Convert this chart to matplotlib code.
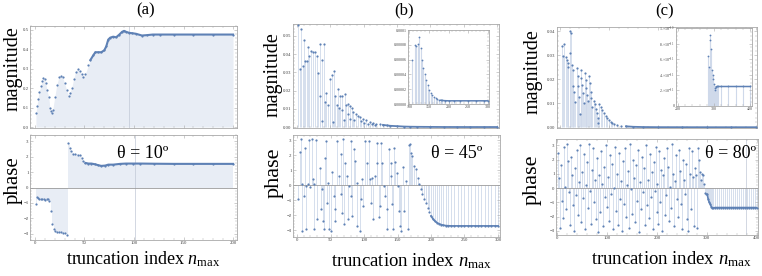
import numpy as np
import matplotlib
matplotlib.use("Agg")
import matplotlib.pyplot as plt
from matplotlib.ticker import MultipleLocator, FixedLocator, FixedFormatter

plt.rcParams['mathtext.fontset'] = 'custom'
plt.rcParams['mathtext.rm'] = 'Liberation Serif'
plt.rcParams['mathtext.it'] = 'Liberation Serif:italic'
plt.rcParams['font.family'] = ['Liberation Serif', 'DejaVu Serif']

# ---------------- data ----------------
panel_titles = ["(a)", "(b)", "(c)"]
theta_labels = ["θ = 10º", "θ = 45º", "θ = 80º"]

# (a) theta = 10
a_mag_n = [1, 2, 3, 4, 6, 7, 8, 10, 11, 12, 14, 15, 16, 17, 18, 20, 22, 24, 26, 28, 30, 32, 34, 35, 37,
           39, 41, 43, 45, 47, 49, 51, 54, 56, 59, 61, 64, 67, 70, 72, 74, 76, 79, 82, 85, 88, 90, 92,
           95, 98, 102, 108, 113, 119, 126, 140, 160, 180, 200]
a_mag = [0.07, 0.11, 0.145, 0.18, 0.21, 0.235, 0.25, 0.245, 0.225, 0.19, 0.155, 0.10, 0.085, 0.072, 0.09,
         0.155, 0.215, 0.255, 0.265, 0.255, 0.225, 0.19, 0.16, 0.175, 0.20, 0.245, 0.285, 0.30, 0.29,
         0.275, 0.26, 0.275, 0.32, 0.345, 0.37, 0.385, 0.385, 0.385, 0.395, 0.415, 0.45, 0.46, 0.465,
         0.462, 0.475, 0.49, 0.495, 0.49, 0.485, 0.483, 0.48, 0.471, 0.473, 0.476, 0.476, 0.476, 0.476,
         0.476, 0.476]
a_phase_n = [1, 2, 3, 4, 6, 7, 9, 10, 12, 13, 14, 16, 17, 19, 20, 22, 24, 26, 28, 30, 32,
             33, 35, 36, 38, 40, 43, 45, 47, 49, 51, 54, 57, 61, 64, 67, 71, 74, 79, 86, 92, 99,
             106, 120, 140, 160, 180, 200]
a_phase = [-1.07, -0.6, -0.69, -0.75, -0.77, -0.77, -0.75, -0.82, -0.77, -0.75, -0.88, -1.5, -2.39,
           -2.67, -2.8, -2.86, -2.88, -2.88, -2.92, -2.97, -3.08,
           2.9, 2.58, 2.34, 2.19, 2.15, 2.13, 2.09, 1.94, 1.72, 1.59, 1.55, 1.55, 1.5, 1.44, 1.40,
           1.42, 1.48, 1.48, 1.53, 1.55, 1.55, 1.55, 1.54, 1.53, 1.53, 1.53, 1.53]

# (b) theta = 45
b_mag_n = [1, 5, 6, 9, 11, 12, 15, 16, 18, 21, 24, 27, 30, 32, 34, 35, 37, 38, 40, 42, 44, 46, 49, 52,
           54, 55, 57, 60, 62, 63, 65, 67, 68, 70, 72, 74, 76, 77, 79, 80, 82, 84, 86, 89, 92, 94, 96,
           99, 101, 104, 107, 109, 112, 114, 117, 119, 124, 129, 135, 140, 150, 160, 170, 180, 200,
           220, 240, 260, 280, 300]
b_mag = [0.0558, 0.032, 0.054, 0.0333, 0.0477, 0.036, 0.036, 0.0438, 0.0388, 0.0415, 0.041, 0.041,
         0.039, 0.0294, 0.017, 0.0458, 0.037, 0.0035, 0.0454, 0.014, 0.0188, 0.012, 0.0265, 0.0285,
         0.003, 0.0308, 0.017, 0.012, 0.0208, 0.0102, 0.017, 0.0092, 0.0173, 0.0038, 0.0179, 0.012,
         0.0127, 0.0073, 0.0115, 0.0045, 0.0102, 0.0083, 0.004, 0.0073, 0.0063, 0.0054, 0.0035,
         0.0044, 0.0025, 0.0038, 0.0015, 0.003, 0.0018, 0.0025, 0.0012, 0.0019, 0.0015, 0.0012,
         0.0009, 0.0007, 0.0005, 0.0003, 0.0002, 0.00015, 0.0001, 0.00005, 0.00004, 0.00003,
         0.00003, 0.00003]
b_inset_n = [108, 114, 118, 122, 126, 129, 132, 135, 139, 143, 147, 151, 155, 159, 164, 168, 172,
             176, 180, 184, 190, 200, 215, 230, 250, 270, 290, 300]
b_inset = [0.00006, 0.00008, 0.000079, 0.000081, 0.000091, 0.000076, 0.00006, 0.000048, 0.00004,
           0.000033, 0.000026, 0.000019, 0.000015, 0.000012, 0.00001, 0.0000086, 0.000007,
           0.0000057, 0.000005, 0.0000048, 0.0000045, 0.0000043, 0.0000043, 0.0000043, 0.0000043,
           0.0000043, 0.0000043, 0.0000043]
b_phase_n = [1, 5, 6, 7, 8, 10, 12, 13, 14, 16, 18, 20, 22, 24, 25, 26, 28, 30, 34, 36, 37, 39, 41,
             42, 44, 45, 46, 47, 50, 52, 55, 56, 57, 60, 62, 65, 66, 67, 69, 70, 72, 74, 76, 77, 80,
             81, 82, 85, 87, 89, 90, 94, 96, 97, 99, 101, 104, 107, 109, 111, 112, 114, 116, 119,
             120, 122, 124, 126, 127, 130, 132, 134, 135, 137, 140, 141, 142, 144, 145, 147, 149,
             151, 152, 154, 155, 158, 160, 162, 165, 167, 169, 170, 172, 175, 177, 180, 182, 185,
             187, 190, 192, 195, 197, 200, 203, 206, 209, 212, 215, 218, 222, 226, 230, 235, 240,
             245, 250, 255, 260, 265, 270, 275, 280, 285, 290, 295, 300]
b_phase = [-0.93, 2.22, 3.07, 0.07, -3.04, -0.71, 2.5, -0.04, -2.93, 0.07, 3.0, -0.09, 3.07, 0.4,
           0.07, -2.93, 3.02, -2.27, 1.18, -1.6, -0.27, -2.38, -2.93, 1.84, 2.96, -1.16, 0.18,
           -2.93, -3.04, 0.89, -0.71, -2.38, -1.6, 2.96, 0.62, 2.07, -0.6, -1.82, 3.07, -2.6, 1.51,
           0.62, -2.27, -0.04, 2.96, -0.71, -2.04, 2.4, 1.62, -2.71, 0.18, -3.04, -0.93, 0.4,
           -1.38, 2.96, 1.51, 2.96, 0.4, -1.16, 0.51, -2.22, 0.62, 2.84, 1.51, -2.09, -1.38, 2.8,
           1.51, -0.04, -0.71, -1.6, -2.93, 2.44, 1.51, 0.62, -1.27, -2.93, 2.51, 1.56, 0.84, -0.04,
           -1.71, -2.71, -3.04, 1.2, -1.71, 0.3, -2.93, 2.67, 2.73, 2.13, 1.96, 1.29, 1.07, 0.51,
           0.07, -0.27, -0.6, -0.93, -1.2, -1.49, -1.78, -2.04, -2.25, -2.4, -2.5, -2.57, -2.62,
           -2.66, -2.69, -2.7, -2.71, -2.71, -2.71, -2.71, -2.71, -2.71, -2.71, -2.71, -2.71, -2.71,
           -2.71, -2.71, -2.71, -2.71, -2.71]

# (c) theta = 80
c_mag_n = [5, 7, 9, 12, 14, 16, 17, 21, 21, 23, 25, 27, 27, 29, 31, 34, 36, 37, 39, 41, 43, 44, 46, 47,
           49, 51, 53, 54, 56, 57, 59, 61, 63, 64, 66, 69, 72, 74, 76, 77, 78, 80, 84, 87, 90, 94,
           97, 100, 104, 107, 110, 117, 124, 135, 150, 170, 200, 250, 300, 350, 400]
c_mag = [0.034, 0.0298, 0.0348, 0.0295, 0.028, 0.027, 0.0253, 0.040, 0.031, 0.0393, 0.026, 0.024,
         0.017, 0.0149, 0.0107, 0.0246, 0.0212, 0.017, 0.0128, 0.0056, 0.024, 0.0205, 0.0177,
         0.0142, 0.010, 0.0226, 0.0198, 0.0163, 0.0135, 0.0111, 0.0212, 0.0184, 0.0146, 0.0121,
         0.0086, 0.0111, 0.0095, 0.0075, 0.0058, 0.0017, 0.0038, 0.0098, 0.0086, 0.0072, 0.0058,
         0.0045, 0.0038, 0.0031, 0.0024, 0.0017, 0.0014, 0.001, 0.0007, 0.0004, 0.0002, 0.0001,
         0.00005, 0.00003, 0.00002, 0.00002, 0.00002]
c_inset_n = [284, 286, 288, 290, 292, 294, 296, 298, 300, 302, 304, 306, 308, 312, 320, 340, 360,
             380, 400]
c_inset = [6.4e-11, 5.0e-11, 9.1e-11, 8.4e-11, 7.3e-11, 4.6e-11, 4.0e-11, 3.4e-11, 2.8e-11,
           2.0e-11, 2.3e-11, 2.45e-11, 2.5e-11, 2.5e-11, 2.5e-11, 2.5e-11, 2.5e-11, 2.5e-11, 2.5e-11]
c_phase_n = list(range(1, 290, 2)) + [291, 293, 295, 297, 299, 301, 303, 305, 307, 309, 311, 313,
                                      317, 321, 325, 329, 333, 337, 341, 345, 349, 353, 357, 361,
                                      365, 369, 373, 377, 381, 385, 389, 393, 397, 400]
c_phase = [2.5, 0.7, -2.8, 1.6, -0.9, -2.1, 2.9, 0.1, -1.5, 3.1,
           1.9, -0.3, -2.6, 2.2, 0.9, -1.2, -3.0, 1.4, -0.5, 2.7,
           -1.9, 0.4, 3.0, -2.4, 1.1, -0.7, 2.4, -2.9, 0.2, 1.8,
           -1.4, 3.1, -0.2, -2.5, 1.3, 2.8, -1.0, 0.6, -2.2, 2.1,
           -3.1, 0.9, -1.7, 2.6, 0.3, -2.7, 1.5, -0.6, 3.0, -1.3,
           0.8, -2.3, 2.3, -0.4, 1.7, -2.9, 0.0, 2.9, -1.6, 1.0,
           -2.6, 2.5, -0.8, 0.5, -3.0, 1.9, -1.1, 2.8, -2.0, 0.2,
           1.2, -2.8, 3.1, -0.1, -1.8, 2.0, 0.7, -2.4, 1.6, -0.9,
           2.7, -3.1, 0.4, -1.5, 2.2, -0.3, 1.4, -2.6, 3.0, -1.2,
           0.6, -2.1, 2.4, -0.6, 1.1, -2.9, 1.8, -0.2, 2.9, -1.7,
           0.3, -2.5, 2.6, -1.0, 1.3, -3.0, 0.9, 2.1, -1.9, -0.5,
           2.8, 1.5, -2.3, 0.1, -1.4, 3.1, 1.0, -2.7, 0.5, 2.3,
           -0.8, -2.0, 2.7, 1.2, -1.1, -2.9, 2.0, 0.6, -0.4, 1.7,
           -2.2, -3.0, 2.8, 1.0, -1.5, 2.6, 0.8, -2.7, 1.4, 0.9,
           -2.8, 2.8, 2.0, 1.1, 0.6,
           1.0, 0.9, 0.3, -0.34, -0.4, -0.45, -0.8, -1.0, -1.13, -1.3, -1.38, -1.4,
           -1.37, -1.37, -1.37, -1.37, -1.37, -1.37, -1.37, -1.37, -1.37, -1.37, -1.37, -1.37,
           -1.37, -1.37, -1.37, -1.37, -1.37, -1.37, -1.37, -1.37, -1.37, -1.37]

# ---------------- figure ----------------
W, H = 762, 276
fig = plt.figure(figsize=(W / 100, H / 100), dpi=100)

PT = '#5E81B5'
STEM = '#cfd9ea'
FRAME = '#a8a8a8'
TICKC = '#444444'


def px_axes(l, t, r, b):
    return fig.add_axes([l / W, 1 - b / H, (r - l) / W, (b - t) / H])


def style(ax, lab=3.5):
    for s in ax.spines.values():
        s.set_color(FRAME)
        s.set_linewidth(0.6)
    ax.tick_params(which='both', direction='in', top=True, right=True, color=FRAME,
                   labelsize=lab, labelcolor=TICKC, pad=1.0)
    ax.tick_params(which='major', length=2.2, width=0.4)
    ax.tick_params(which='minor', length=1.2, width=0.3)


def ftext(x, y, s, size, **kw):
    fig.text(x / W, 1 - y / H, s, fontsize=size, ha='center', va='center', **kw)


def stems(ax, n, v, lw=0.6):
    ax.vlines(n, 0, v, color=STEM, lw=lw, zorder=1)


def dots(ax, n, v, ms=1.6):
    ax.plot(n, v, 'o', ms=ms, color=PT, mec='none', zorder=3)


# ----- (a) -----
ax = px_axes(30, 26, 237, 128)
style(ax)
ax.fill_between(a_mag_n, 0, a_mag, color='#e8edf5', lw=0, zorder=1)
ax.axvline(95, color='#c0c8d6', lw=0.5, zorder=1)
dots(ax, a_mag_n, a_mag)
ax.plot(a_mag_n[33:], a_mag[33:], '-', color=PT, lw=1.5, zorder=3)
ax.set_xlim(-5, 204)
ax.set_ylim(-0.005, 0.52)
ax.xaxis.set_major_locator(MultipleLocator(50))
ax.xaxis.set_minor_locator(MultipleLocator(10))
ax.yaxis.set_major_locator(MultipleLocator(0.1))
ax.yaxis.set_minor_locator(MultipleLocator(0.02))
ax.yaxis.set_major_formatter(matplotlib.ticker.FormatStrFormatter('%.1f'))
ax.tick_params(labelbottom=False)

ax = px_axes(30, 135, 237, 240)
style(ax)
ax.fill_between(a_phase_n, 0, a_phase, step='post', color='#e8edf5', lw=0, zorder=1)
ax.axvline(101, color='#c0c8d6', lw=0.5, zorder=1)
ax.axhline(0, color='#9a9a9a', lw=0.6, zorder=2)
dots(ax, a_phase_n, a_phase)
ax.plot(a_phase_n[30:], a_phase[30:], '-', color=PT, lw=1.5, zorder=3)
ax.set_xlim(-5, 204)
ax.set_ylim(-3.4, 3.4)
ax.xaxis.set_major_locator(MultipleLocator(50))
ax.xaxis.set_minor_locator(MultipleLocator(10))
ax.yaxis.set_major_locator(MultipleLocator(1))
ax.yaxis.set_minor_locator(MultipleLocator(0.2))

# ----- (b) -----
ax = px_axes(293, 24, 499, 128)
style(ax)
stems(ax, b_mag_n, b_mag)
dots(ax, b_mag_n, b_mag)
ax.plot(b_mag_n[57:], b_mag[57:], '-', color=PT, lw=1.3, zorder=3)
ax.set_xlim(-6, 303)
ax.set_ylim(-0.0005, 0.0565)
ax.xaxis.set_major_locator(MultipleLocator(50))
ax.xaxis.set_minor_locator(MultipleLocator(10))
ax.yaxis.set_major_locator(MultipleLocator(0.01))
ax.yaxis.set_minor_locator(MultipleLocator(0.002))
ax.yaxis.set_major_formatter(matplotlib.ticker.FormatStrFormatter('%.2f'))
ax.tick_params(labelbottom=False)

ins = px_axes(408, 30, 489, 104)
style(ins, lab=2.9)
stems(ins, b_inset_n, b_inset, lw=0.8)
dots(ins, b_inset_n, b_inset, ms=1.3)
ins.plot(b_inset_n[18:], b_inset[18:], '-', color=PT, lw=1.1, zorder=3)
ins.set_xlim(97, 303)
ins.set_ylim(0, 0.0001)
ins.xaxis.set_major_locator(MultipleLocator(50))
ins.xaxis.set_minor_locator(MultipleLocator(10))
ins.yaxis.set_major_locator(FixedLocator([0, 2e-5, 4e-5, 6e-5, 8e-5, 1e-4]))
ins.yaxis.set_major_formatter(FixedFormatter(['0.00000', '0.00002', '0.00004', '0.00006',
                                               '0.00008', '0.0001']))
ins.yaxis.set_minor_locator(MultipleLocator(5e-6))

ax = px_axes(293, 135, 500, 237)
style(ax)
stems(ax, b_phase_n, b_phase)
ax.axhline(0, color='#9a9a9a', lw=0.6, zorder=2)
dots(ax, b_phase_n, b_phase)
ax.plot(b_phase_n[103:], b_phase[103:], '-', color=PT, lw=1.2, zorder=3)
ax.set_xlim(-6, 303)
ax.set_ylim(-3.45, 3.35)
ax.xaxis.set_major_locator(MultipleLocator(50))
ax.xaxis.set_minor_locator(MultipleLocator(10))
ax.yaxis.set_major_locator(MultipleLocator(1))
ax.yaxis.set_minor_locator(MultipleLocator(0.2))

# ----- (c) -----
ax = px_axes(557, 27, 757, 128)
style(ax)
stems(ax, c_mag_n, c_mag)
dots(ax, c_mag_n, c_mag)
ax.plot(c_mag_n[53:], c_mag[53:], '-', color=PT, lw=1.3, zorder=3)
ax.set_xlim(-6, 403)
ax.set_ylim(-0.0003, 0.0418)
ax.xaxis.set_major_locator(MultipleLocator(100))
ax.xaxis.set_minor_locator(MultipleLocator(20))
ax.yaxis.set_major_locator(MultipleLocator(0.01))
ax.yaxis.set_minor_locator(MultipleLocator(0.002))
ax.yaxis.set_major_formatter(matplotlib.ticker.FormatStrFormatter('%.2f'))
ax.tick_params(labelbottom=False)

ins = px_axes(676, 28, 752, 106)
style(ins, lab=2.9)
stems(ins, c_inset_n, c_inset, lw=0.8)
dots(ins, c_inset_n, c_inset, ms=1.3)
ins.plot(c_inset_n[11:], c_inset[11:], '-', color=PT, lw=1.1, zorder=3)
ins.set_xlim(195, 405)
ins.set_ylim(0, 1e-10)
ins.xaxis.set_major_locator(MultipleLocator(100))
ins.xaxis.set_minor_locator(MultipleLocator(20))
ins.yaxis.set_major_locator(FixedLocator([0, 2e-11, 4e-11, 6e-11, 8e-11, 1e-10]))
ins.yaxis.set_major_formatter(FixedFormatter(['0', r'2.$\times$10$^{-11}$', r'4.$\times$10$^{-11}$',
                                               r'6.$\times$10$^{-11}$', r'8.$\times$10$^{-11}$',
                                               r'1.$\times$10$^{-10}$']))
ins.yaxis.set_minor_locator(MultipleLocator(5e-12))

ax = px_axes(556, 139, 758, 235)
style(ax)
stems(ax, c_phase_n, c_phase)
ax.axvline(379, color='#c0c8d6', lw=0.5, zorder=1)
ax.axhline(0, color='#9a9a9a', lw=0.6, zorder=2)
dots(ax, c_phase_n, c_phase)
ax.plot(c_phase_n[150:], c_phase[150:], '-', color=PT, lw=1.2, zorder=3)
ax.set_xlim(-3, 403)
ax.set_ylim(-3.3, 3.45)
ax.xaxis.set_major_locator(MultipleLocator(100))
ax.xaxis.set_minor_locator(MultipleLocator(20))
ax.yaxis.set_major_locator(MultipleLocator(1))
ax.yaxis.set_minor_locator(MultipleLocator(0.2))

# ----- texts -----
ftext(146, 10, panel_titles[0], 12)
ftext(404, 10, panel_titles[1], 12)
ftext(665, 11, panel_titles[2], 12)

ftext(13, 69, "magnitude", 14.5, rotation=90)
ftext(273, 75, "magnitude", 14.5, rotation=90)
ftext(533, 72, "magnitude", 14.5, rotation=90)
ftext(13, 180, "phase", 15, rotation=90)
ftext(274, 173, "phase", 16, rotation=90)
ftext(532, 180, "phase", 16, rotation=90)

xl = r"truncation index $n_{\mathrm{max}}$"
ftext(143, 259, xl, 13)
ftext(411, 261, xl, 13.5)
ftext(671, 259, xl, 13.5)

ftext(143, 153, theta_labels[0], 13)
ftext(457, 153, theta_labels[1], 13)
ftext(731, 153, theta_labels[2], 13)

fig.savefig("out.png", dpi=100)
